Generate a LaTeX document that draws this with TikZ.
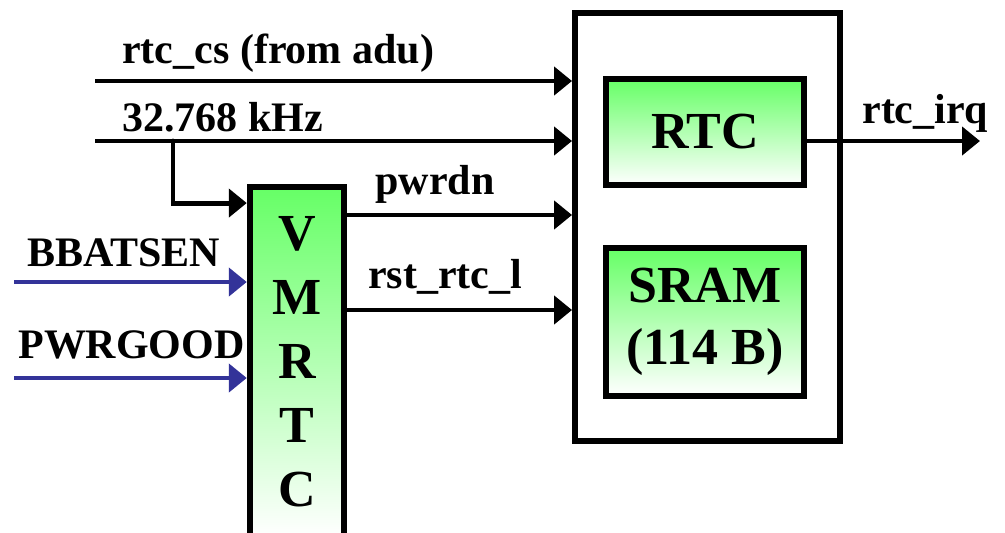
\documentclass[tikz,border=0pt]{standalone}
\usepackage{fontspec}
\setmainfont{Liberation Serif}
\usetikzlibrary{arrows.meta}
\definecolor{blockgreen}{RGB}{102,255,102}
\definecolor{pinblue}{RGB}{51,51,153}

\begin{document}
\begin{tikzpicture}[x=0.02cm,y=-0.02cm,>={Triangle[length=0.36cm,width=0.56cm]},
  font=\bfseries\fontsize{23.9}{28}\selectfont,
  sig/.style={->,line width=2.8pt},
  pin/.style={sig,pinblue},
  blk/.style={draw,line width=3.4pt,inner sep=0pt,top color=blockgreen,bottom color=white,
    align=center,font=\bfseries\fontsize{29.6}{35.5}\selectfont},
  lbl/.style={anchor=base west,inner sep=0pt}]
\useasboundingbox (0,0) rectangle (1005,532);
% blocks
\node[draw,line width=3.4pt,minimum width=5.3cm,minimum height=8.56cm] (chip) at (707.5,227) {};
\node[blk,minimum width=3.97cm,minimum height=2.13cm] (rtc) at (705,132) {RTC};
\node[blk,minimum width=3.97cm,minimum height=2.95cm] (sram) at (705,322) {SRAM\\(114 B)};
\node[blk,minimum width=1.89cm,minimum height=7cm,font=\bfseries\fontsize{29.6}{36.4}\selectfont] (vm) at (297,362) {V\\M\\R\\T\\C};
% inputs
\coordinate (csin) at (95,81);
\coordinate (clkin) at (95,141);
\coordinate (tap) at (173,141);
\coordinate (pd) at (346,215);
\coordinate (rst) at (346,310);
\coordinate (bbat) at (14,282);
\coordinate (pgood) at (14,378);
\coordinate (irq) at (980,141);
\draw[sig] (csin) -- (csin -| chip.west);
\draw[sig] (clkin) -- (clkin -| chip.west);
\draw[sig,line cap=round] (tap) |- ([yshift=-0.38cm]vm.north west);
\draw[sig] (vm.east |- pd) -- (chip.west |- pd);
\draw[sig] (vm.east |- rst) -- (chip.west |- rst);
\draw[pin] (bbat) -- (bbat -| vm.west);
\draw[pin] (pgood) -- (pgood -| vm.west);
\draw[sig] (rtc.east |- irq) -- (irq);
% labels
\node[lbl] (cslbl) at (122,63) {rtc\_cs (from adu)};
\node[lbl] (clklbl) at (122,131) {32.768 kHz};
\node[lbl] (pdlbl) at (375,194) {pwrdn};
\node[lbl] (rstlbl) at (368,288) {rst\_rtc\_l};
\node[lbl] (bbatlbl) at (27,266) {BBATSEN};
\node[lbl] (pgoodlbl) at (18,358) {PWRGOOD};
\node[lbl] (irqlbl) at (862,123) {rtc\_irq};
\end{tikzpicture}
\end{document}
